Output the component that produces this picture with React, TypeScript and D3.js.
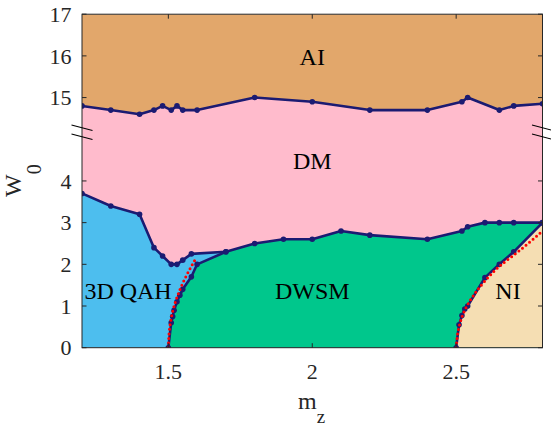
import React from "react";
import * as d3 from "d3";

// ---- data (W0 values in real units; upper panel is 14.5..17) ----
const aiMz = [1.2, 1.3, 1.4, 1.45, 1.48, 1.51, 1.53, 1.55, 1.6, 1.8, 2.0, 2.2, 2.4, 2.52, 2.54, 2.65, 2.7, 2.8];
const aiW = [14.8, 14.7, 14.6, 14.7, 14.8, 14.7, 14.8, 14.7, 14.7, 15.0, 14.9, 14.7, 14.7, 14.9, 15.0, 14.7, 14.8, 14.85];

const dmMz = [1.2, 1.3, 1.4, 1.45, 1.48, 1.51, 1.53, 1.55, 1.58, 1.7, 1.8, 1.9, 2.0, 2.1, 2.2, 2.4, 2.52, 2.54, 2.6, 2.65, 2.7, 2.8];
const dmW = [3.7, 3.4, 3.2, 2.4, 2.2, 2.0, 2.0, 2.1, 2.25, 2.3, 2.5, 2.6, 2.6, 2.8, 2.7, 2.6, 2.8, 2.9, 3.0, 3.0, 3.0, 3.0];

const qahMz = [1.5, 1.51, 1.515, 1.52, 1.53, 1.54, 1.55, 1.58, 1.6, 1.7];
const qahW = [0, 0.6, 0.75, 0.9, 1.1, 1.26, 1.4, 1.7, 2.0, 2.3];

const niMz = [2.5, 2.51, 2.52, 2.53, 2.54, 2.6, 2.65, 2.7, 2.8];
const niW = [0, 0.55, 0.77, 0.93, 1.0, 1.68, 2.0, 2.3, 3.0];

const fitQahMz = [1.5, 1.505, 1.52, 1.547, 1.572, 1.592];
const fitQahW = [0, 0.5, 1.0, 1.5, 1.85, 2.1];

const fitNiMz = [2.5, 2.51, 2.53, 2.56, 2.6, 2.65, 2.7, 2.75, 2.8];
const fitNiW = [0, 0.5, 0.9, 1.25, 1.6, 1.95, 2.22, 2.5, 2.8];

const xTicks = [1.5, 2, 2.5];
const yTicks = [0, 1, 2, 3, 4, 15, 16, 17];

const phaseNames = ["AI", "DM", "3D QAH", "DWSM", "NI"];
const phaseLabelMz = [2.0, 2.0, 1.36, 2.0, 2.68];
const phaseLabelW = [15.77, 4.28, 1.17, 1.17, 1.18];

// ---- layout ----
const W = 551, H = 426;
const L = 82, R = 542.5, T = 14.2, B = 347.7;
const SERIF = "Liberation Serif";
const AXIS = "#262626";
const NAVY = "#1b1b72";
const COLORS = {
  AI: "#e2a76b",
  DM: "#ffbbcc",
  QAH: "#4dbeee",
  DWSM: "#00c78c",
  NI: "#f5deb3",
};

const x = d3.scaleLinear().domain([1.2, 2.8]).range([L, R]);
const yLin = d3.scaleLinear().domain([0, 8]).range([B, T]);
const yv = (w: number) => yLin(w >= 10 ? w - 9 : w);

const zip = (a: number[], b: number[]) => a.map((v, i) => [v, b[i]] as [number, number]);

const line = d3
  .line<[number, number]>()
  .x((d) => x(d[0]))
  .y((d) => yv(d[1]));

const poly = (pts: [number, number][]) => line(pts) + "Z";

export default function App() {
  const ai = zip(aiMz, aiW);
  const dm = zip(dmMz, dmW);
  const qah = zip(qahMz, qahW);
  const ni = zip(niMz, niW);
  const fitQ = zip(fitQahMz, fitQahW);
  const fitN = zip(fitNiMz, fitNiW);

  const dmPoly = poly([...ai, [2.8, 0], [1.2, 0]]);
  const qahPoly = poly([...dm, [2.8, 0], [1.2, 0]]);
  const dwsmPoly = poly([...qah, ...dm.filter((d) => d[0] > 1.7), [2.8, 0]]);
  const niPoly = poly([...ni, [2.8, 0]]);

  const tickLen = 4.5;
  const breakY = yLin(5.15);

  const navyLines = [ai, dm, qah, ni];
  const fitLine = d3
    .line<[number, number]>()
    .x((d) => x(d[0]))
    .y((d) => yv(d[1]))
    .curve(d3.curveMonotoneY);

  return (
    <svg
      width={W}
      height={H}
      style={{ position: "absolute", left: 0, top: 0, background: "#fff" }}
    >
      <style>{`text, tspan { font-family: "Liberation Serif", "Times New Roman", serif; }`}</style>
      <defs>
        <clipPath id="plotClip">
          <rect x={L} y={T} width={R - L} height={B - T} />
        </clipPath>
      </defs>
      <g clipPath="url(#plotClip)">
        <rect x={L} y={T} width={R - L} height={B - T} fill={COLORS.AI} />
        <path d={dmPoly} fill={COLORS.DM} />
        <path d={qahPoly} fill={COLORS.QAH} />
        <path d={dwsmPoly} fill={COLORS.DWSM} />
        <path d={niPoly} fill={COLORS.NI} />

        {navyLines.map((pts, i) => (
          <g key={i}>
            <path d={line(pts) || ""} fill="none" stroke={NAVY} strokeWidth={2.6} strokeLinejoin="round" />
            {pts.map((p, j) => (
              <circle key={j} cx={x(p[0])} cy={yv(p[1])} r={2.8} fill={NAVY} />
            ))}
          </g>
        ))}

        {[fitQ, fitN].map((pts, i) => (
          <path
            key={i}
            d={fitLine(pts) || ""}
            fill="none"
            stroke="#ff0000"
            strokeWidth={3}
            strokeLinecap="round"
            strokeDasharray="0 4.6"
          />
        ))}

        {phaseNames.map((name, i) => (
          <text
            key={name}
            x={x(phaseLabelMz[i])}
            y={phaseLabelW[i] >= 10 ? yv(phaseLabelW[i]) : yLin(phaseLabelW[i])}
            textAnchor="middle"
            fontSize={24}
            fontFamily={SERIF}
            fill="#000"
          >
            {name}
          </text>
        ))}
      </g>

      {/* frame */}
      <rect x={L} y={T} width={R - L} height={B - T} fill="none" stroke={AXIS} strokeWidth={1} />

      {/* x ticks */}
      {xTicks.map((t) => (
        <g key={"x" + t}>
          <line x1={x(t)} x2={x(t)} y1={B} y2={B - tickLen} stroke={AXIS} />
          <line x1={x(t)} x2={x(t)} y1={T} y2={T + tickLen} stroke={AXIS} />
          <text x={x(t)} y={379} textAnchor="middle" fontSize={22} fontFamily={SERIF} fill="#262626">
            {t}
          </text>
        </g>
      ))}

      {/* y ticks */}
      {yTicks.map((t) => (
        <g key={"y" + t}>
          <line x1={L} x2={L + tickLen} y1={yv(t)} y2={yv(t)} stroke={AXIS} />
          <line x1={R} x2={R - tickLen} y1={yv(t)} y2={yv(t)} stroke={AXIS} />
          <text x={71.5} y={yv(t)} dy="0.35em" textAnchor="end" fontSize={22} fontFamily={SERIF} fill="#262626">
            {t}
          </text>
        </g>
      ))}

      {/* axis break marks */}
      {[L, R].map((ax) => (
        <g key={"b" + ax} stroke="#000" strokeWidth={1.1}>
          <line x1={ax - 10.5} y1={breakY - 8} x2={ax + 10.5} y2={breakY - 2.5} />
          <line x1={ax - 10.5} y1={breakY + 1} x2={ax + 10.5} y2={breakY + 6.5} />
        </g>
      ))}

      {/* axis labels */}
      <text x={298} y={409} fontSize={24} fontFamily={SERIF} fill="#262626">
        m
        <tspan fontSize={19} dy={14}>z</tspan>
      </text>
      <text transform="translate(21,197) rotate(-90)" fontSize={24} fontFamily={SERIF} fill="#262626">
        W
        <tspan fontSize={20} dy={20}>0</tspan>
      </text>
    </svg>
  );
}
